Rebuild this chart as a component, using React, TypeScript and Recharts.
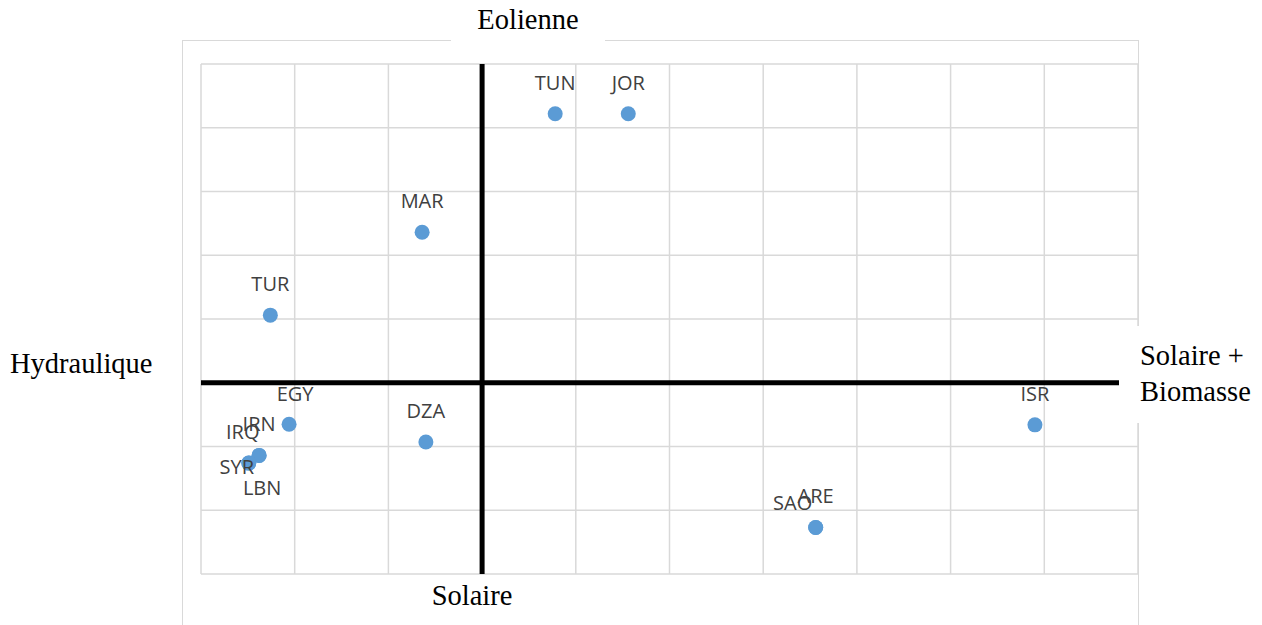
import React from 'react'
import {
  ScatterChart,
  Scatter,
  XAxis,
  YAxis,
  CartesianGrid,
  ReferenceLine,
} from 'recharts'

// countries and their position on the two axes (grid units)
const NAMES = ['TUN', 'JOR', 'MAR', 'TUR', 'EGY', 'DZA', 'ISR', 'ARE', 'SAO', 'IRN', 'LBN', 'IRQ', 'SYR']
const X_VALUES = [0.78, 1.56, -0.64, -2.26, -2.06, -0.6, 5.9, 3.56, 3.56, -2.38, -2.38, -2.49, -2.49]
const Y_VALUES = [4.22, 4.22, 2.36, 1.06, -0.65, -0.93, -0.66, -2.27, -2.27, -1.14, -1.14, -1.26, -1.26]

const X_TICKS = [-3, -2, -1, 0, 1, 2, 3, 4, 5, 6, 7]
const Y_TICKS = [-3, -2, -1, 0, 1, 2, 3, 4, 5]

const data = NAMES.map((name, i) => ({ name, x: X_VALUES[i], y: Y_VALUES[i] }))

// label placement tweaks, as moved by hand in the original
const LABEL_OFFSET: Record<string, [number, number]> = {
  EGY: [6, -30],
  SAO: [-23, -24],
  IRQ: [-6, -31],
  SYR: [-12, 4],
  LBN: [3, 33],
}

const POINT_COLOR = '#5b9bd5'
const GRID_COLOR = '#d9d9d9'
const SERIF = '"Liberation Serif", "Times New Roman", serif'

const renderPoint = (props: any) => (
  <circle cx={props.cx} cy={props.cy} r={7.5} fill={POINT_COLOR} />
)

const renderLabel = (props: any) => {
  const name = props.payload?.name
  const [dx, dy] = LABEL_OFFSET[name] ?? [0, -31]
  return (
    <text
      x={props.cx + dx}
      y={props.cy + dy}
      dy="0.35em"
      textAnchor="middle"
      fill="#404040"
      fontSize={20}
      fontFamily='"Open Sans", sans-serif'
    >
      {name}
    </text>
  )
}

const boxText: React.CSSProperties = {
  position: 'absolute',
  background: '#fff',
  fontFamily: SERIF,
  fontSize: 28.5,
  color: '#000',
  lineHeight: '36px',
}

export default function App() {
  return (
    <div
      style={{
        position: 'absolute',
        left: 0,
        top: 0,
        width: 1262,
        height: 625,
        overflow: 'hidden',
        background: '#fff',
      }}
    >
      <div
        style={{
          position: 'absolute',
          left: 182,
          top: 40,
          width: 957,
          height: 700,
          border: `1.5px solid ${GRID_COLOR}`,
          boxSizing: 'border-box',
        }}
      />
      <div style={{ position: 'absolute', left: 0, top: 0 }}>
        <ScatterChart
          width={1262}
          height={625}
          margin={{ top: 64, right: 124, bottom: 51, left: 201 }}
        >
          <CartesianGrid stroke={GRID_COLOR} strokeWidth={1.5} />
          <XAxis
            hide
            type="number"
            dataKey="x"
            domain={[-3, 7]}
            ticks={X_TICKS}
            allowDataOverflow
          />
          <YAxis
            hide
            type="number"
            dataKey="y"
            domain={[-3, 5]}
            ticks={Y_TICKS}
            allowDataOverflow
          />
          <ReferenceLine x={0} stroke="#000" strokeWidth={5} />
          <ReferenceLine y={0} stroke="#000" strokeWidth={5} />
          <Scatter data={data} shape={renderPoint} isAnimationActive={false} />
          <Scatter data={data} shape={renderLabel} isAnimationActive={false} />
        </ScatterChart>
      </div>

      <div style={{ ...boxText, left: 451, top: 0, width: 154, height: 46, textAlign: 'center', lineHeight: '40px' }}>
        Eolienne
      </div>
      <div style={{ ...boxText, left: 0, top: 346, width: 170, height: 40, paddingLeft: 10, boxSizing: 'border-box' }}>
        Hydraulique
      </div>
      <div style={{ ...boxText, left: 1119, top: 326, width: 143, height: 97, paddingLeft: 21, paddingTop: 12, boxSizing: 'border-box' }}>
        Solaire +
        <br />
        Biomasse
      </div>
      <div style={{ ...boxText, left: 420, top: 578, width: 104, height: 40, textAlign: 'center' }}>
        Solaire
      </div>
    </div>
  )
}
